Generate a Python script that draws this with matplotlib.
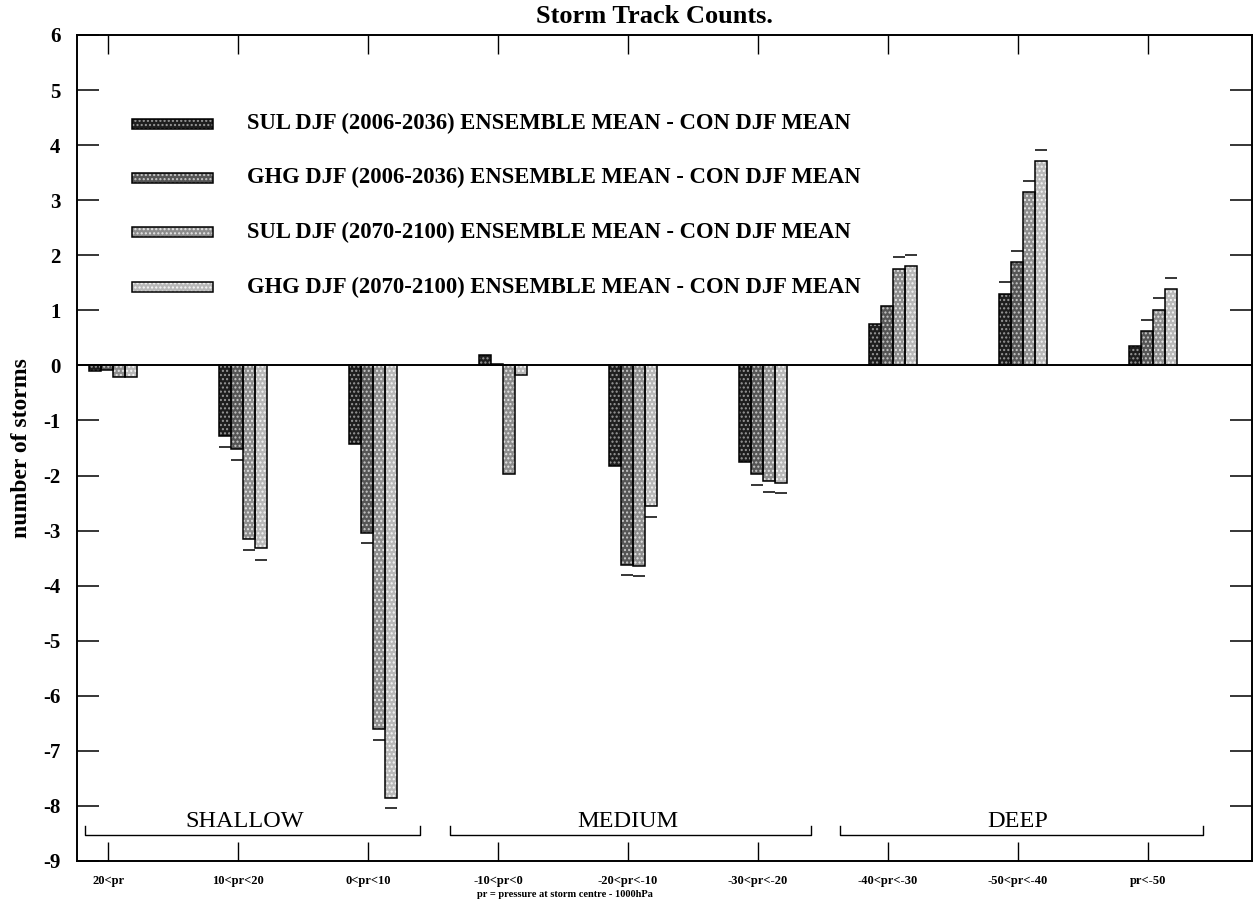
import numpy as np
import matplotlib
matplotlib.use("Agg")
import matplotlib.pyplot as plt
from matplotlib.patches import Rectangle

plt.rcParams["font.family"] = ["Liberation Serif", "DejaVu Serif"]
plt.rcParams["hatch.linewidth"] = 1.0

# ─── data ───────────────────────────────────────────────────────────────
categories = ["20<pr", "10<pr<20", "0<pr<10", "-10<pr<0", "-20<pr<-10",
              "-30<pr<-20", "-40<pr<-30", "-50<pr<-40", "pr<-50"]
series_names = ["SUL DJF (2006-2036) ENSEMBLE MEAN - CON DJF MEAN",
                "GHG DJF (2006-2036) ENSEMBLE MEAN - CON DJF MEAN",
                "SUL DJF (2070-2100) ENSEMBLE MEAN - CON DJF MEAN",
                "GHG DJF (2070-2100) ENSEMBLE MEAN - CON DJF MEAN"]
sul_early = [-0.10, -1.28, -1.42, 0.18, -1.82, -1.75, 0.75, 1.29, 0.36]
ghg_early = [-0.09, -1.52, -3.05, 0.03, -3.62, -1.98, 1.07, 1.88, 0.63]
sul_late  = [-0.21, -3.15, -6.60, -1.97, -3.65, -2.10, 1.75, 3.14, 1.01]
ghg_late  = [-0.22, -3.32, -7.85, -0.18, -2.56, -2.13, 1.80, 3.72, 1.38]
nan = np.nan
sul_early_err = [nan, -1.48, nan, nan, nan, nan, nan, 1.51, nan]
ghg_early_err = [nan, -1.72, -3.22, nan, -3.80, -2.17, nan, 2.08, 0.83]
sul_late_err  = [nan, -3.35, -6.80, nan, -3.83, -2.30, 1.96, 3.35, 1.22]
ghg_late_err  = [nan, -3.53, -8.03, nan, -2.76, -2.32, 2.01, 3.92, 1.58]
groups = ["SHALLOW", "MEDIUM", "DEEP"]
yticks = list(range(-9, 7))

values = [sul_early, ghg_early, sul_late, ghg_late]
errors = [sul_early_err, ghg_early_err, sul_late_err, ghg_late_err]
faces = ["#1e1e1e", "#555555", "#8c8c8c", "#b8b8b8"]
dots = ["#9a9a9a", "#c8c8c8", "#e6e6e6", "#f6f6f6"]

# ─── figure ─────────────────────────────────────────────────────────────
fig = plt.figure(figsize=(12.56, 8.99), dpi=100)
ax = fig.add_axes([0.0613, 0.0423, 0.9355, 0.9188])

x = np.arange(len(categories))
w = 0.092
for k, (vals, errs) in enumerate(zip(values, errors)):
    xc = x - 0.1 + k * w
    ax.bar(xc, vals, w, color=faces[k], linewidth=0, zorder=2)
    ax.bar(xc, vals, w, fill=False, edgecolor=dots[k], linewidth=0,
           hatch="....", zorder=3)
    ax.bar(xc, vals, w, fill=False, edgecolor="black", linewidth=1.1, zorder=4)
    ax.hlines(errs, xc - w / 2, xc + w / 2, color="black", lw=1.1, zorder=4)

ax.axhline(0, color="black", lw=1.4, zorder=5)

ax.set_xlim(-0.24, 8.8)
ax.set_ylim(-9, 6)
ax.set_xticks(x)
ax.set_xticklabels(categories, fontsize=9, fontweight="bold")
ax.set_yticks(yticks)
ax.set_yticklabels([str(v) for v in yticks], fontsize=15, fontweight="bold")
ax.tick_params(axis="y", direction="in", length=16, width=1.1, pad=12,
               left=True, right=True)
ax.tick_params(axis="x", direction="in", length=14, width=1.0, pad=10,
               top=True, bottom=True)
for s in ax.spines.values():
    s.set_linewidth(1.4)

ax.set_ylabel("number of storms", fontsize=17, fontweight="bold", labelpad=8)
fig.text(0.521, 0.982, "Storm Track Counts.", ha="center", va="center",
         fontsize=19, fontweight="bold")
fig.text(0.45, 0.0, "pr = pressure at storm centre - 1000hPa",
         ha="center", va="bottom", fontsize=7.5, fontweight="bold")

# group brackets
spans = [(-0.18, 2.4), (2.63, 5.41), (5.63, 8.42)]
label_x = [1.05, 4.0, 7.0]
for (x1, x2), lx, name in zip(spans, label_x, groups):
    ax.plot([x1, x1, x2, x2], [-8.36, -8.53, -8.53, -8.36], color="black",
            lw=1.0, zorder=5)
    ax.text(lx, -8.29, name, ha="center", va="center", fontsize=17.5)

# legend
tr = ax.transAxes
for k, name in enumerate(series_names):
    yc = [0.8923, 0.8269, 0.7615, 0.6949][k]
    ax.add_patch(Rectangle((0.0468, yc - 0.0065), 0.0689, 0.013, transform=tr,
                           facecolor=faces[k], linewidth=0, zorder=6))
    ax.add_patch(Rectangle((0.0468, yc - 0.0065), 0.0689, 0.013, transform=tr,
                           fill=False, edgecolor=dots[k], linewidth=0,
                           hatch="....", zorder=7))
    ax.add_patch(Rectangle((0.0468, yc - 0.0065), 0.0689, 0.013, transform=tr,
                           fill=False, edgecolor="black", linewidth=1.1, zorder=8))
    ax.text(0.1447, yc, name, transform=tr, ha="left", va="center",
            fontsize=16.3, fontweight="bold")

fig.savefig("out.png", dpi=100)
